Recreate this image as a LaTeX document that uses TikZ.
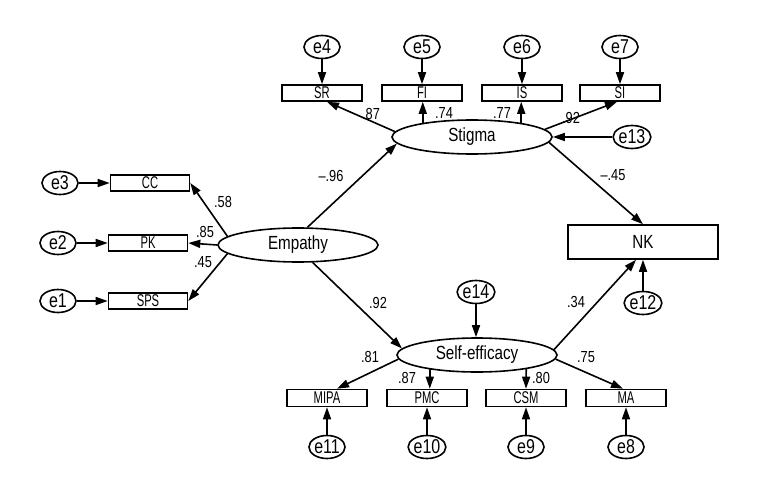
\documentclass[tikz,border=0pt]{standalone}
\usepackage{fontspec}
\usetikzlibrary{shapes.geometric,arrows.meta,calc}
\newfontfamily\labf[FakeStretch=0.8]{Liberation Sans}
\newfontfamily\boxf[FakeStretch=0.66]{Liberation Sans}
\tikzset{
  latent/.style={ellipse, draw, line width=1.6pt, minimum width=160pt, minimum height=34pt, inner sep=0pt, font=\labf\fontsize{19}{20}\selectfont},
  err/.style={ellipse, draw, line width=1.6pt, minimum width=36pt, minimum height=23pt, inner sep=0pt, font=\labf\fontsize{20}{20}\selectfont},
  obs/.style={rectangle, draw, line width=1.6pt, minimum width=80pt, minimum height=16pt, inner sep=0pt, font=\boxf\fontsize{17}{17}\selectfont},
  bigobs/.style={rectangle, draw, line width=1.6pt, minimum width=150pt, minimum height=34pt, inner sep=0pt, font=\labf\fontsize{19}{20}\selectfont},
  coef/.style={inner sep=0pt, font=\labf\fontsize{16}{16}\selectfont},
  arr/.style={line width=1.6pt, -{Triangle[length=12pt,width=8pt]}}
}
\begin{document}
\begin{tikzpicture}[x=1pt,y=-1pt]
\useasboundingbox (0,0) rectangle (760,500);
% latent variables
\node[latent] (stigma) at (472,137) {Stigma};
\node[latent] (emp) at (298,245) {Empathy};
\node[latent] (se) at (477,355) {Self-efficacy};
\node[bigobs] (nk) at (643,242) {NK};
% top indicators
\node[obs] (sr) at (322,93) {SR};
\node[obs] (fi) at (422,93) {FI};
\node[obs] (is) at (522,93) {IS};
\node[obs] (si) at (620,93) {SI};
\node[err] (e4) at (322,47) {e4};
\node[err] (e5) at (422,47) {e5};
\node[err] (e6) at (522,47) {e6};
\node[err] (e7) at (620,47) {e7};
\node[err] (e13) at (632,137) {e13};
% left indicators
\node[obs, minimum width=79pt] (cc) at (150,183) {CC};
\node[obs, minimum width=79pt] (pk) at (148,243) {PK};
\node[obs, minimum width=79pt] (sps) at (148,301) {SPS};
\node[err] (e3) at (60,183) {e3};
\node[err] (e2) at (58,243) {e2};
\node[err] (e1) at (58,301) {e1};
% bottom indicators
\node[obs, minimum height=17pt] (mipa) at (327,398) {MIPA};
\node[obs, minimum height=17pt] (pmc) at (427,398) {PMC};
\node[obs, minimum height=17pt] (csm) at (526,398) {CSM};
\node[obs, minimum height=17pt] (ma) at (626,398) {MA};
\node[err] (e11) at (327,447) {e11};
\node[err] (e10) at (427,447) {e10};
\node[err] (e9) at (526,447) {e9};
\node[err] (e8) at (626,447) {e8};
\node[err] (e14) at (476,292) {e14};
\node[err] (e12) at (643,303) {e12};
% error arrows
\draw[arr] (e4) -- (sr);
\draw[arr] (e5) -- (fi);
\draw[arr] (e6) -- (is);
\draw[arr] (e7) -- (si);
\draw[arr] (e13) -- (stigma.east);
\draw[arr] (e3) -- (cc);
\draw[arr] (e2) -- (pk);
\draw[arr] (e1) -- (sps);
\draw[arr] (e11) -- (mipa);
\draw[arr] (e10) -- (pmc);
\draw[arr] (e9) -- (csm);
\draw[arr] (e8) -- (ma);
\draw[arr] (e12) -- (nk.south -| e12);
\draw[arr] (e14.south) -- (e14.south |- se.north);
% stigma loadings
\draw[arr] (stigma.176) -- ($(sr.south)+(5,0)$);
\draw[arr] (stigma.164) -- (stigma.164 |- fi.south);
\draw[arr] (stigma.16) -- (stigma.16 |- is.south);
\draw[arr] (stigma.6) -- ($(si.south)+(-3,0)$);
% empathy loadings
\draw[arr] (emp.173) -- (cc.east);
\draw[arr] (emp.west) -- (pk.east);
\draw[arr] (emp.187) -- (sps.east);
% structural paths
\draw[arr] (emp.62) -- (stigma.185);
\draw[arr] (emp.-50) -- (se.175);
\draw[arr] (stigma.-4) -- (nk.north);
\draw[arr] (se.4) -- ($(nk.south)+(-7,0)$);
% self-efficacy loadings
\draw[arr] (se.183) -- ($(mipa.north)+(10,0)$);
\draw[arr] (se.197) -- (se.197 |- pmc.north);
\draw[arr] (se.-16) -- (csm.north);
\draw[arr] (se.-3) -- ($(ma.north)+(-3,0)$);
% coefficients
\node[coef] (c1) at (371,114) {.87};
\node[coef] (c2) at (444,113) {.74};
\node[coef] (c3) at (502,113) {.77};
\node[coef] (c4) at (571,118) {.92};
\node[coef] (c5) at (331,176) {\char"2013.96};
\node[coef] (c6) at (613,175) {\char"2013.45};
\node[coef] (c7) at (223,202) {.58};
\node[coef] (c8) at (205,232) {.85};
\node[coef] (c9) at (203,262) {.45};
\node[coef] (c10) at (378,303) {.92};
\node[coef] (c11) at (576,302) {.34};
\node[coef] (c12) at (370,357) {.81};
\node[coef] (c13) at (407,378) {.87};
\node[coef] (c14) at (541,378) {.80};
\node[coef] (c15) at (586,357) {.75};
\end{tikzpicture}
\end{document}
